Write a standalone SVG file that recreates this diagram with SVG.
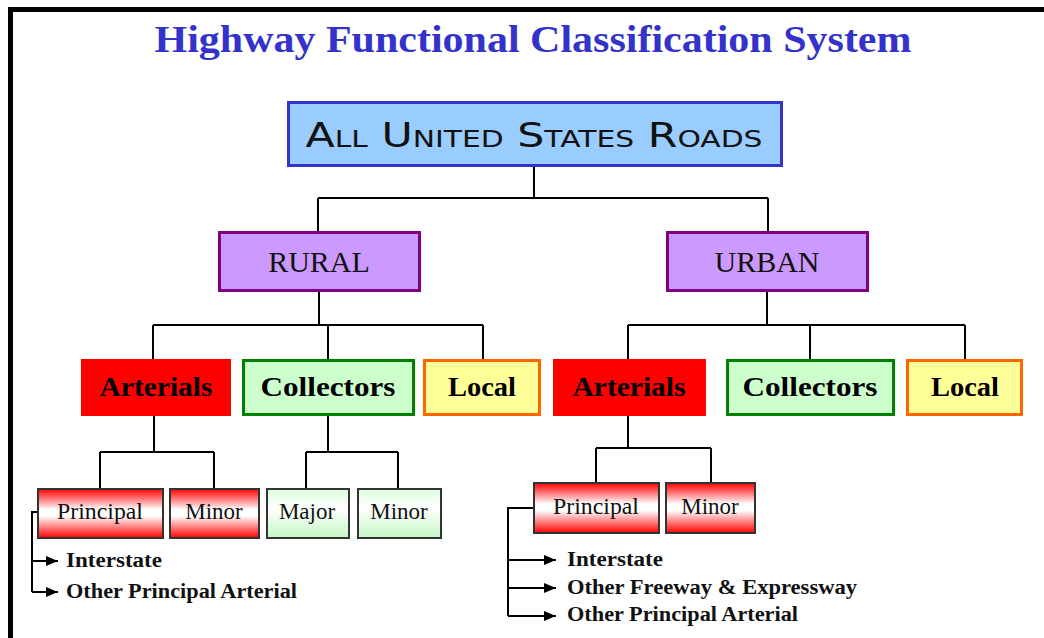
<svg xmlns="http://www.w3.org/2000/svg" width="1044" height="638" viewBox="0 0 1044 638">
<style>
.conn{fill:none;stroke:#000;stroke-width:2}
.title{font-family:"Liberation Serif",serif;font-weight:bold;font-size:37px;fill:#3333cc}
.top{font-family:"DejaVu Sans",sans-serif;font-variant:small-caps;font-size:33px;fill:#111}
.l2{font-family:"Liberation Serif",serif;font-size:30px;fill:#111}
.l3{font-family:"Liberation Serif",serif;font-weight:bold;font-size:27px;fill:#000}
.l4{font-family:"Liberation Serif",serif;font-size:23px;fill:#111}
.sub{font-family:"Liberation Serif",serif;font-weight:bold;font-size:20px;fill:#111}
.box4{stroke:#333;stroke-width:2}
</style>
<defs>
<linearGradient id="gRed" x1="0" y1="0" x2="0" y2="1">
<stop offset="0" stop-color="#ff0000"/>
<stop offset="0.42" stop-color="#ffffff"/>
<stop offset="0.55" stop-color="#ffffff"/>
<stop offset="1" stop-color="#ff0000"/>
</linearGradient>
<linearGradient id="gGreen" x1="0" y1="0" x2="0" y2="1">
<stop offset="0" stop-color="#ddffdd"/>
<stop offset="0.4" stop-color="#ffffff"/>
<stop offset="1" stop-color="#c4f7c4"/>
</linearGradient>
<marker id="arr" viewBox="0 0 12 10" refX="12" refY="5" markerWidth="12" markerHeight="10" markerUnits="userSpaceOnUse" orient="auto">
<path d="M0,0 L12,5 L0,10 Z" fill="#000"/>
</marker>
</defs>
<rect x="0" y="0" width="1044" height="638" fill="#fff"/>
<path d="M10.5,638 V9.5 H1044" fill="none" stroke="#000" stroke-width="5"/>
<text class="title" x="533" y="52" text-anchor="middle" textLength="757" lengthAdjust="spacingAndGlyphs">Highway Functional Classification System</text>

<g id="connectors">
<path class="conn" d="M534,166 V198 M318,198 H768 M318,198 V232 M768,198 V232"/>
<path class="conn" d="M319,291 V325 M153,325 H483 M153,325 V360 M328,325 V360 M483,325 V360"/>
<path class="conn" d="M767,291 V325 M628,325 H965 M628,325 V360 M810,325 V360 M965,325 V360"/>
<path class="conn" d="M154,416 V452 M100,452 H214 M100,452 V489 M214,452 V489"/>
<path class="conn" d="M328,416 V452 M306,452 H398 M306,452 V489 M398,452 V489"/>
<path class="conn" d="M628,416 V448 M596,448 H711 M596,448 V483 M711,448 V483"/>
<path class="conn" d="M37,512 H32 V592"/>
<path class="conn" d="M32,561 H58" marker-end="url(#arr)"/>
<path class="conn" d="M32,592 H58" marker-end="url(#arr)"/>
<path class="conn" d="M534,508 H508 V616"/>
<path class="conn" d="M508,560 H556" marker-end="url(#arr)"/>
<path class="conn" d="M508,588 H556" marker-end="url(#arr)"/>
<path class="conn" d="M508,616 H556" marker-end="url(#arr)"/>
</g>

<g id="all-roads">
<rect x="288.5" y="102.5" width="493" height="63" fill="#99ccff" stroke="#3333cc" stroke-width="3"/>
<text class="top" x="534" y="147" text-anchor="middle" textLength="457" lengthAdjust="spacingAndGlyphs">All United States Roads</text>
</g>

<g id="rural">
<rect x="219.5" y="232.5" width="200" height="58" fill="#cc99ff" stroke="#800080" stroke-width="3"/>
<text class="l2" x="319" y="272" text-anchor="middle">RURAL</text>
</g>
<g id="urban">
<rect x="667.5" y="232.5" width="200" height="58" fill="#cc99ff" stroke="#800080" stroke-width="3"/>
<text class="l2" x="767" y="272" text-anchor="middle">URBAN</text>
</g>

<g id="rural-arterials">
<rect x="81" y="359" width="150" height="57" fill="#ff0000"/>
<text class="l3" x="156" y="396" text-anchor="middle" textLength="113" lengthAdjust="spacingAndGlyphs">Arterials</text>
</g>
<g id="rural-collectors">
<rect x="243.5" y="360.5" width="170" height="54" fill="#ccffcc" stroke="#008000" stroke-width="3"/>
<text class="l3" x="328" y="396" text-anchor="middle" textLength="135" lengthAdjust="spacingAndGlyphs">Collectors</text>
</g>
<g id="rural-local">
<rect x="424.5" y="360.5" width="115" height="54" fill="#ffff99" stroke="#ff6600" stroke-width="3"/>
<text class="l3" x="482" y="396" text-anchor="middle" textLength="68" lengthAdjust="spacingAndGlyphs">Local</text>
</g>
<g id="urban-arterials">
<rect x="553" y="359" width="153" height="57" fill="#ff0000"/>
<text class="l3" x="629" y="396" text-anchor="middle" textLength="113" lengthAdjust="spacingAndGlyphs">Arterials</text>
</g>
<g id="urban-collectors">
<rect x="727.5" y="360.5" width="166" height="54" fill="#ccffcc" stroke="#008000" stroke-width="3"/>
<text class="l3" x="810" y="396" text-anchor="middle" textLength="135" lengthAdjust="spacingAndGlyphs">Collectors</text>
</g>
<g id="urban-local">
<rect x="907.5" y="360.5" width="114" height="54" fill="#ffff99" stroke="#ff6600" stroke-width="3"/>
<text class="l3" x="965" y="396" text-anchor="middle" textLength="68" lengthAdjust="spacingAndGlyphs">Local</text>
</g>

<g id="rural-principal">
<rect class="box4" x="38" y="489" width="125" height="49" fill="url(#gRed)"/>
<text class="l4" x="100" y="519" text-anchor="middle" textLength="86" lengthAdjust="spacingAndGlyphs">Principal</text>
</g>
<g id="rural-minor-arterial">
<rect class="box4" x="170" y="489" width="89" height="49" fill="url(#gRed)"/>
<text class="l4" x="214" y="519" text-anchor="middle">Minor</text>
</g>
<g id="rural-major-collector">
<rect class="box4" x="267" y="489" width="82" height="49" fill="url(#gGreen)"/>
<text class="l4" x="307" y="519" text-anchor="middle">Major</text>
</g>
<g id="rural-minor-collector">
<rect class="box4" x="358" y="489" width="83" height="49" fill="url(#gGreen)"/>
<text class="l4" x="399" y="519" text-anchor="middle">Minor</text>
</g>
<g id="urban-principal">
<rect class="box4" x="534" y="483" width="125" height="50" fill="url(#gRed)"/>
<text class="l4" x="596" y="514" text-anchor="middle" textLength="86" lengthAdjust="spacingAndGlyphs">Principal</text>
</g>
<g id="urban-minor">
<rect class="box4" x="666" y="483" width="89" height="50" fill="url(#gRed)"/>
<text class="l4" x="710" y="514" text-anchor="middle">Minor</text>
</g>

<g id="rural-principal-types">
<text class="sub" x="66" y="567" textLength="96" lengthAdjust="spacingAndGlyphs">Interstate</text>
<text class="sub" x="66" y="598" textLength="231" lengthAdjust="spacingAndGlyphs">Other Principal Arterial</text>
</g>
<g id="urban-principal-types">
<text class="sub" x="567" y="566" textLength="96" lengthAdjust="spacingAndGlyphs">Interstate</text>
<text class="sub" x="567" y="594" textLength="290" lengthAdjust="spacingAndGlyphs">Other Freeway &amp; Expressway</text>
<text class="sub" x="567" y="621" textLength="231" lengthAdjust="spacingAndGlyphs">Other Principal Arterial</text>
</g>
</svg>
